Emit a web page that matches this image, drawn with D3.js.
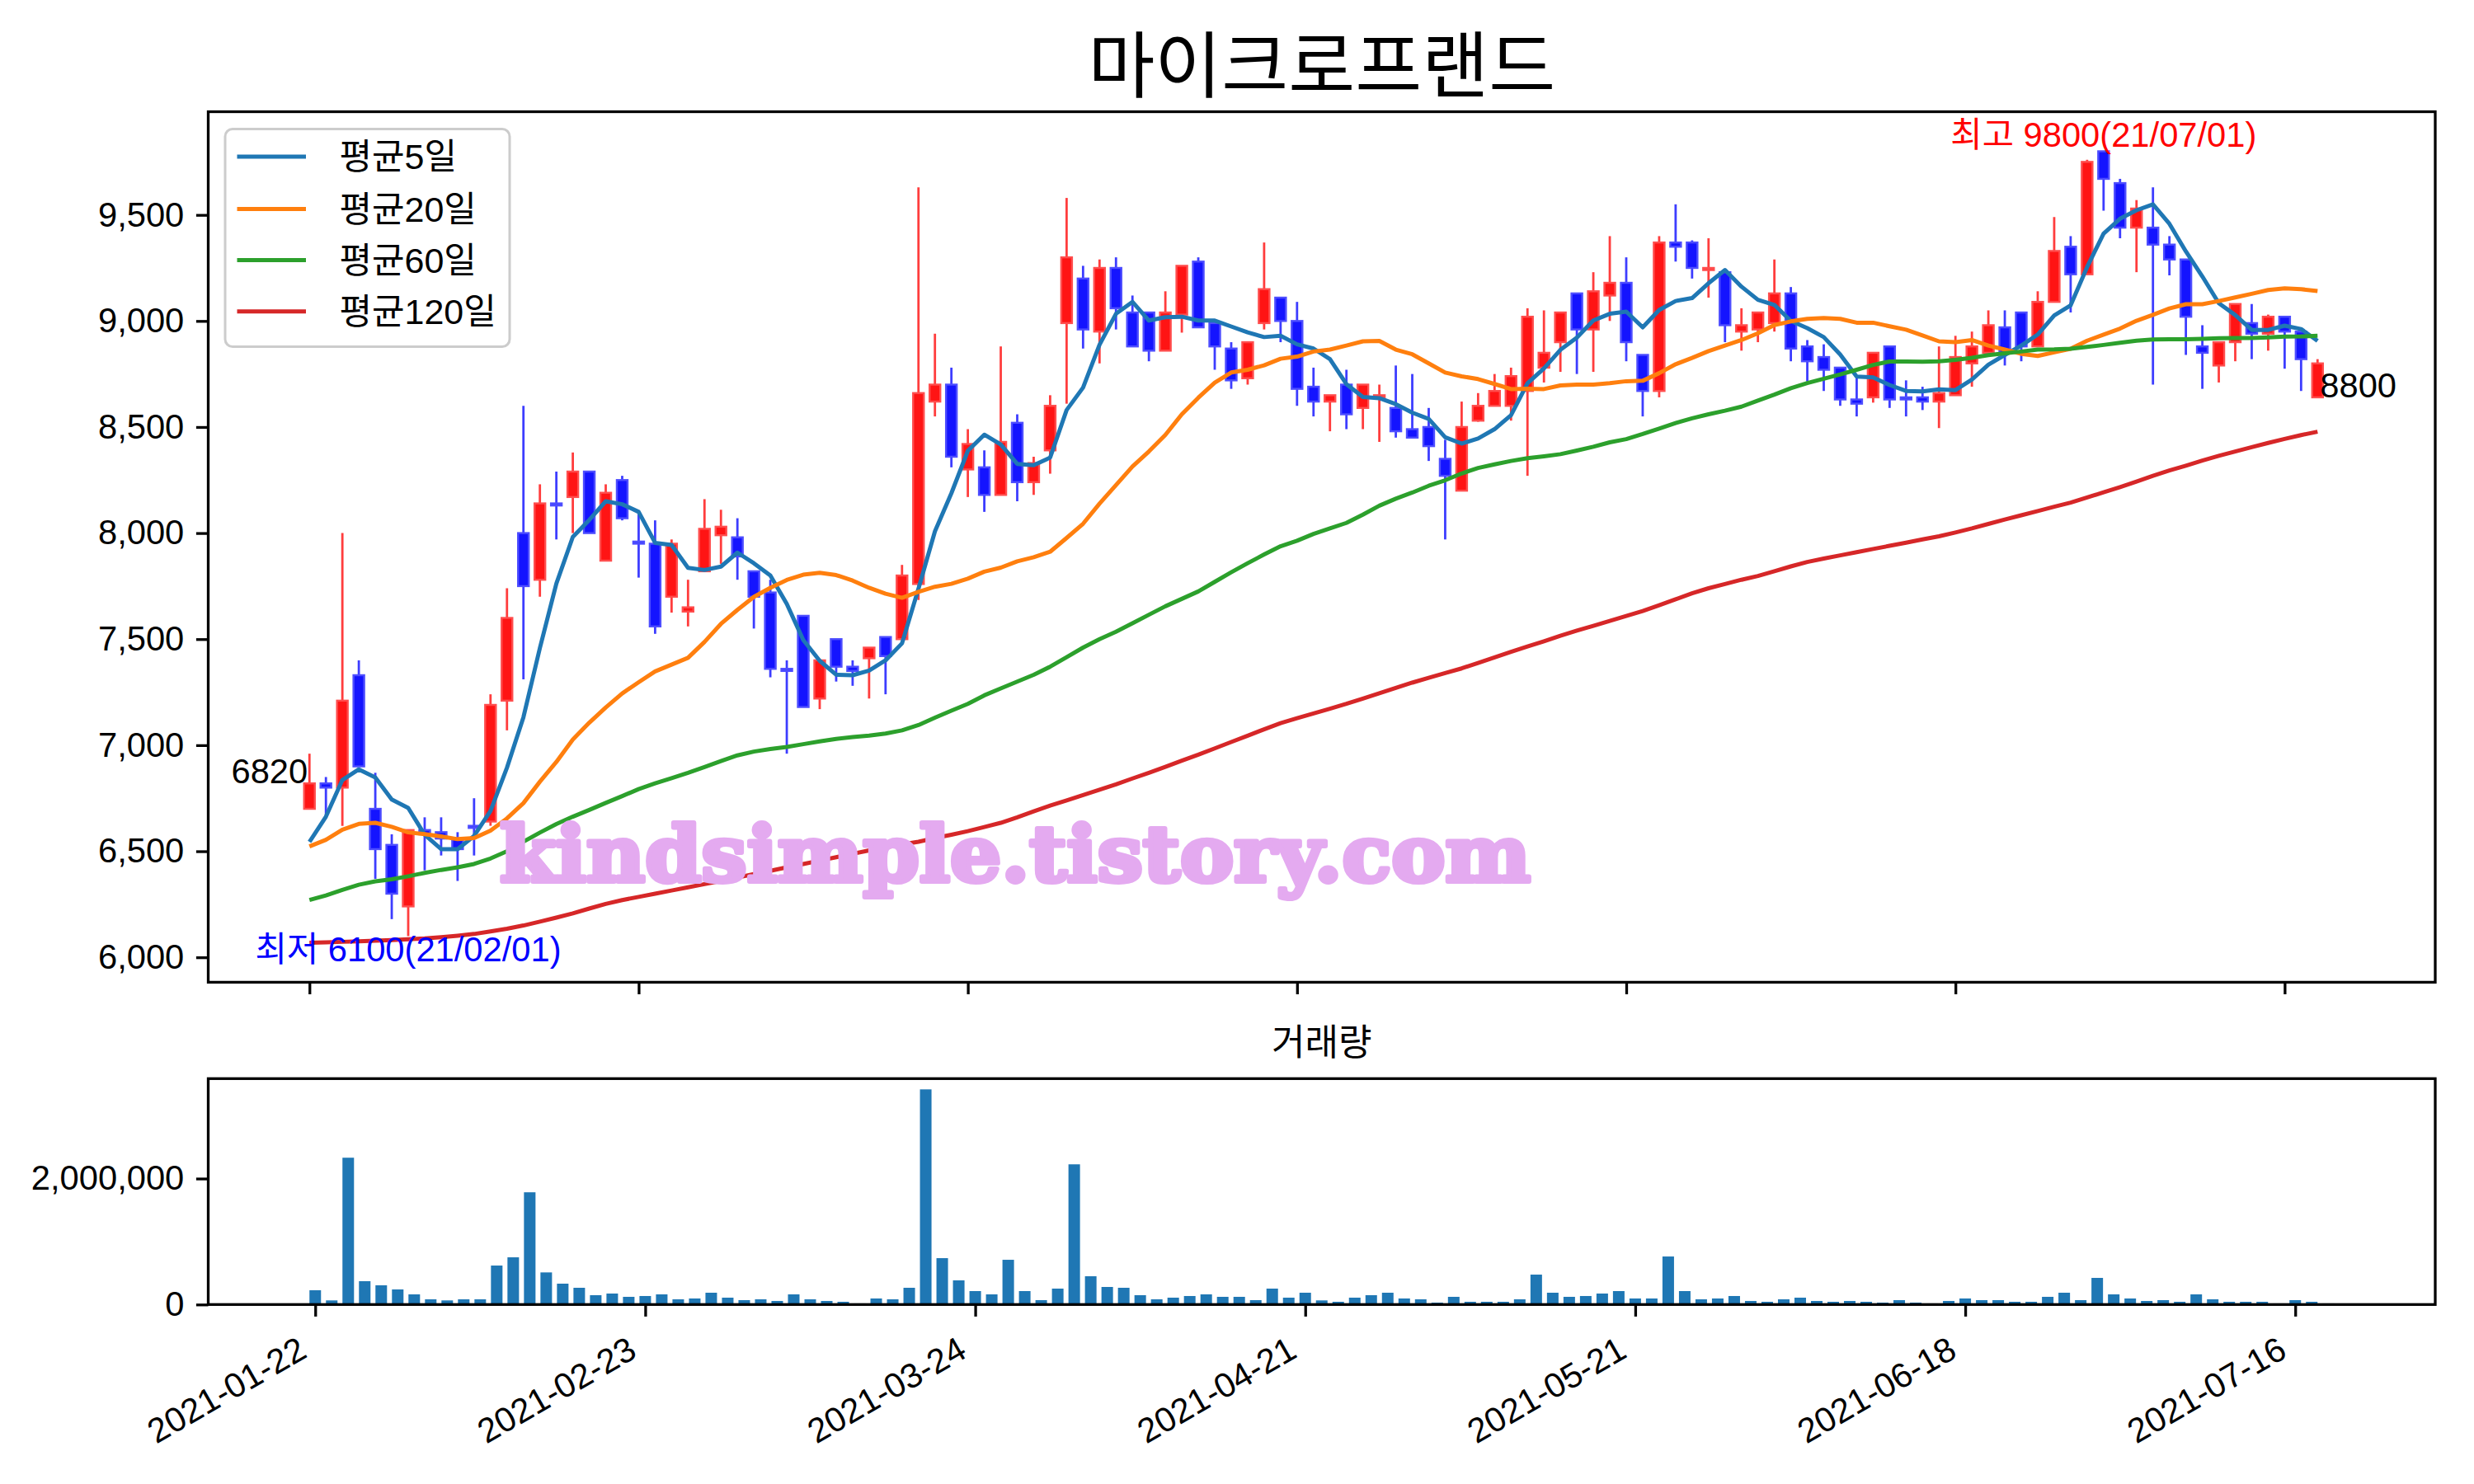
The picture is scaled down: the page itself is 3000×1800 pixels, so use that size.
<!DOCTYPE html>
<html><head><meta charset="utf-8">
<script src="https://cdn.jsdelivr.net/npm/d3@7"></script>
<style>body{margin:0;background:#fff}</style>
</head><body>
<svg id="c" width="3000" height="1800" xmlns="http://www.w3.org/2000/svg"></svg>
<script>
const chartTitle = "마이크로프랜드";
const volTitle = "거래량";
const tickIdx = [0, 20, 40, 60, 80, 100, 120];
const tickLabels = ["2021-01-22","2021-02-23","2021-03-24","2021-04-21","2021-05-21","2021-06-18","2021-07-16"];
const yTicks = [6000, 6500, 7000, 7500, 8000, 8500, 9000, 9500];
const volTicks = [0, 2000000];
const maNames = ["평균5일", "평균20일", "평균60일", "평균120일"];

const opens = [
6700,6820,6800,7330,6700,6530,6240,6600,6590,6560,
6620,6640,7210,8000,7780,8140,8170,8290,7870,8250,
7960,7950,7700,7630,7820,7990,7980,7820,7720,7360,
7610,7220,7500,7370,7410,7510,7500,7760,8620,8700,
8300,8310,8180,8520,8240,8390,8990,9200,8950,9250,
9040,9040,8860,9030,9280,8990,8870,8730,8990,9110,
9000,8690,8620,8700,8590,8640,8590,8490,8500,8350,
8200,8530,8600,8600,8670,8780,8900,9130,8960,9120,
9180,8840,8670,9370,9370,9240,9230,8950,8960,8990,
9130,8880,8830,8780,8630,8640,8880,8640,8640,8620,
8650,8800,8850,8970,9040,8880,9090,9350,9220,9800,
9650,9440,9440,9360,9290,8880,8790,8900,8990,8940,
9020,8950,8640];
const highs = [
6960,6850,8000,7400,6870,6580,6600,6660,6660,6590,
6750,7240,7740,8600,8230,8290,8380,8290,8230,8270,
8090,8060,7970,7780,8160,8110,8070,7820,7780,7400,
7610,7400,7500,7400,7460,7510,7850,9630,8940,8780,
8490,8390,8880,8560,8360,8650,9580,9260,9290,9300,
9120,9040,9140,9260,9300,8990,8900,8900,9370,9110,
9090,8780,8650,8770,8700,8700,8790,8750,8590,8440,
8620,8660,8750,8780,9060,9050,9040,9130,9230,9400,
9300,8840,9400,9550,9380,9390,9230,9060,9040,9290,
9160,8910,8890,8780,8740,8850,8880,8720,8690,8880,
8930,8950,9050,9050,9040,9140,9490,9400,9760,9800,
9670,9570,9630,9400,9290,8980,8900,9080,9080,9030,
9020,8950,8820];
const lows = [
6700,6660,6620,6900,6370,6180,6100,6410,6480,6360,
6480,6620,7070,7310,7700,7970,8000,8000,7870,8060,
7790,7525,7625,7560,7820,7855,7780,7550,7320,6960,
7180,7170,7300,7280,7220,7240,7500,7685,8550,8310,
8170,8100,8180,8150,8180,8280,8610,8870,8800,8960,
8880,8810,8860,8945,8970,8770,8680,8700,8960,8900,
8600,8550,8480,8490,8490,8430,8450,8450,8340,7970,
8200,8525,8600,8530,8270,8710,8760,8750,8760,9000,
8810,8550,8640,9280,9200,9110,8900,8860,8900,8950,
8810,8715,8670,8600,8550,8615,8590,8550,8580,8495,
8650,8690,8850,8790,8810,8880,9090,9040,9220,9520,
9390,9230,8700,9215,8840,8680,8710,8810,8820,8860,
8775,8670,8640];
const closes = [
6820,6800,7210,6900,6510,6300,6600,6580,6560,6510,
6610,7190,7600,7750,8140,8130,8290,8000,8190,8070,
7950,7560,7950,7650,8020,8030,7890,7700,7360,7350,
7180,7400,7370,7350,7460,7420,7800,8660,8700,8360,
8420,8180,8430,8240,8330,8600,9300,8960,9250,9060,
8880,8860,9040,9260,8970,8880,8720,8900,9150,9000,
8680,8620,8650,8560,8700,8650,8480,8450,8410,8270,
8500,8600,8670,8740,9020,8850,9040,8960,9140,9180,
8900,8670,9370,9350,9250,9250,8980,8980,9040,9130,
8870,8810,8770,8630,8610,8850,8630,8630,8620,8660,
8830,8880,8980,8850,8880,9090,9330,9220,9750,9670,
9440,9530,9360,9290,9020,8850,8900,9080,8940,9020,
8950,8820,8800];
const volumes = [
226600,65400,2331000,370300,305000,239600,161200,82800,65400,82800,
82800,618700,749400,1782000,509800,331100,265800,148100,174300,122000,
135100,161200,82800,95900,187400,108900,69700,82800,56600,161200,
82800,56600,43600,17400,95900,82800,265800,3416000,736300,383400,
213500,161200,710200,213500,69700,252700,2226000,448800,278800,265800,
148100,82800,108900,135100,161200,122000,122000,69700,252700,108900,
187400,65400,43600,108900,148100,187400,95900,82800,30500,122000,
43600,43600,43600,82800,474900,187400,122000,135100,174300,213500,
95900,95900,762500,213500,82800,95900,135100,56600,43600,82800,
108900,56600,43600,56600,43600,30500,69700,30500,17400,56600,
95900,69700,69700,43600,43600,122000,187400,69700,422600,161200,
95900,56600,69700,43600,161200,82800,43600,43600,43600,17400,
69700,43600,17400];
const ma5 = [
6544,6663,6836,6886,6848,6744,6704,6578,6510,6510,
6572,6690,6894,7132,7458,7762,7982,8062,8150,8136,
8100,7954,7944,7836,7826,7842,7908,7858,7800,7666,
7496,7398,7332,7330,7352,7400,7480,7738,8008,8188,
8388,8464,8418,8326,8320,8356,8580,8686,8888,9034,
9090,9002,9018,9020,9002,9002,8974,8946,8924,8930,
8890,8870,8820,8702,8642,8636,8608,8568,8538,8452,
8422,8446,8490,8556,8706,8776,8864,8922,9002,9034,
9044,8970,9052,9094,9108,9178,9240,9162,9100,9076,
9000,8966,8924,8842,8738,8734,8698,8670,8668,8678,
8674,8724,8794,8840,8884,8936,9026,9074,9254,9412,
9482,9522,9550,9458,9328,9210,9084,9028,8958,8958,
8978,8962,8906];
const ma20 = [
6523,6554,6602,6629,6634,6615,6589,6581,6570,6557,
6562,6597,6655,6727,6828,6921,7027,7106,7178,7244,
7297,7348,7380,7412,7487,7572,7638,7699,7742,7779,
7804,7813,7802,7776,7742,7714,7695,7723,7747,7761,
7785,7818,7837,7867,7886,7912,7977,8044,8139,8226,
8314,8385,8463,8560,8638,8709,8757,8770,8791,8822,
8832,8856,8865,8884,8904,8906,8865,8843,8800,8757,
8739,8726,8703,8679,8681,8679,8696,8700,8700,8707,
8716,8718,8754,8796,8826,8858,8884,8910,8942,8981,
8998,9010,9014,9010,8992,8992,8975,8959,8932,8904,
8900,8910,8884,8865,8845,8835,8852,8869,8907,8936,
8964,9001,9029,9059,9079,9079,9094,9111,9128,9146,
9154,9150,9141];
const ma60 = [
6270,6292,6318,6342,6358,6368,6382,6398,6412,6424,
6440,6466,6500,6545,6588,6628,6663,6695,6728,6760,
6793,6820,6845,6870,6897,6925,6952,6970,6982,6992,
7005,7018,7030,7038,7045,7055,7070,7095,7130,7163,
7195,7235,7268,7300,7332,7370,7415,7460,7500,7535,
7575,7615,7655,7690,7725,7770,7815,7858,7899,7938,
7964,7996,8022,8048,8087,8129,8162,8191,8223,8249,
8281,8307,8324,8340,8353,8362,8372,8389,8407,8428,
8443,8467,8493,8519,8541,8560,8577,8596,8625,8653,
8683,8707,8728,8748,8770,8793,8809,8809,8808,8810,
8817,8826,8839,8848,8856,8865,8866,8869,8878,8887,
8897,8907,8913,8914,8914,8916,8919,8920,8920,8923,
8926,8927,8930];
const ma120 = [
6069,6071,6073,6075,6078,6081,6085,6089,6095,6102,
6110,6122,6135,6150,6168,6187,6207,6230,6252,6270,
6285,6300,6315,6330,6345,6360,6376,6392,6408,6424,
6440,6456,6472,6488,6504,6518,6532,6545,6562,6578,
6595,6614,6634,6660,6688,6715,6740,6765,6790,6815,
6843,6870,6898,6927,6955,6985,7015,7045,7075,7104,
7127,7150,7172,7195,7220,7245,7270,7295,7318,7340,
7362,7388,7414,7440,7465,7490,7516,7540,7563,7586,
7609,7633,7660,7688,7716,7740,7760,7780,7798,7820,
7843,7864,7880,7895,7910,7925,7940,7955,7970,7985,
8003,8022,8043,8064,8084,8104,8124,8144,8168,8192,
8217,8243,8270,8295,8318,8342,8364,8385,8405,8425,
8444,8462,8478];
const maxInfo = {idx: 109, value: 9800, label: "최고 9800(21/07/01)"};
const minInfo = {idx: 6, value: 6100, label: "최저 6100(21/02/01)"};
const watermark = "kindsimple.tistory.com";

// ---------------- drawing ----------------
const svg = d3.select('#c');
svg.append('rect').attr('width', 3000).attr('height', 1800).attr('fill', '#fff');
const FONT = "'Liberation Sans', 'Noto Sans CJK KR', sans-serif";
const KFONT = "'Noto Sans CJK KR', 'Liberation Sans', sans-serif";
const FS = 41.7;
const M = {l: 252.5, r: 2953, t: 135.5, b: 1191.4};
const V = {l: 252.5, r: 2953, t: 1308.3, b: 1582.3};
const n = closes.length;
const mas = [ma5, ma20, ma60, ma120];
const maColors = ["#1f77b4", "#ff7f0e", "#2ca02c", "#d62728"];
const LW = 5;

const x = d3.scaleLinear().domain([-0.05 * n, n * 1.05]).range([M.l, M.r]);
const lo = d3.min([d3.min(lows), ...mas.map(a => d3.min(a))]);
const hi = d3.max([d3.max(highs), ...mas.map(a => d3.max(a))]);
const pr = hi - lo;
const y = d3.scaleLinear().domain([lo - 0.05 * pr, hi + 0.05 * pr]).range([M.b, M.t]);

// title
svg.append('text').attr('x', (M.l + M.r) / 2).attr('y', 111).attr('text-anchor', 'middle')
  .attr('font-family', KFONT).attr('font-size', 88).attr('fill', '#000').text(chartTitle);

const main = svg.append('g');
// candles
const cg = main.append('g');
for (let i = 0; i < n; i++) {
  const up = closes[i] >= opens[i];
  const wick = up ? '#ff3d3d' : '#3d3dff';
  const fill = up ? '#ff1414' : '#1414ff';
  const edge = up ? '#ff4d4d' : '#4d4dff';
  cg.append('line').attr('x1', x(i)).attr('x2', x(i)).attr('y1', y(highs[i])).attr('y2', y(lows[i]))
    .attr('stroke', wick).attr('stroke-width', 2.8);
  const top = y(Math.max(opens[i], closes[i]));
  const h = Math.max(1.5, Math.abs(y(opens[i]) - y(closes[i])));
  cg.append('rect').attr('x', x(i) - 6.5).attr('y', top).attr('width', 13).attr('height', h)
    .attr('fill', fill).attr('stroke', edge).attr('stroke-width', 2.4);
}
// moving averages
const line = d3.line().x((d, i) => x(i)).y(d => y(d));
mas.forEach((arr, k) => {
  main.append('path').attr('d', line(arr)).attr('fill', 'none')
    .attr('stroke', maColors[k]).attr('stroke-width', LW).attr('stroke-linejoin', 'round');
});

// annotations
main.append('text').attr('x', x(0) - 2).attr('y', y(closes[0])).attr('text-anchor', 'end')
  .attr('font-family', FONT).attr('font-size', FS).attr('fill', '#000').text(String(closes[0]));
main.append('text').attr('x', x(n - 1) + 3).attr('y', y(lows[n - 1])).attr('text-anchor', 'start')
  .attr('font-family', FONT).attr('font-size', FS).attr('fill', '#000').text(String(closes[n - 1]));
main.append('text').attr('x', x(maxInfo.idx)).attr('y', y(maxInfo.value) - 5).attr('text-anchor', 'middle')
  .attr('font-family', FONT).attr('font-size', FS).attr('fill', '#ff0000').text(maxInfo.label);
main.append('text').attr('x', x(minInfo.idx)).attr('y', y(minInfo.value) + 31).attr('text-anchor', 'middle')
  .attr('font-family', FONT).attr('font-size', FS).attr('fill', '#0000ff').text(minInfo.label);

// watermark
main.append('text').attr('x', 606).attr('y', 1069)
  .attr('font-family', "'DejaVu Serif', serif").attr('font-weight', 'bold').attr('font-size', 94)
  .attr('textLength', 1250).attr('lengthAdjust', 'spacingAndGlyphs')
  .attr('fill', '#e4aaf0').attr('stroke', '#e4aaf0').attr('stroke-width', 6)
  .attr('stroke-linejoin', 'round').text(watermark);

// legend
const lg = svg.append('g');
lg.append('rect').attr('x', 273).attr('y', 156.5).attr('width', 345).attr('height', 264).attr('rx', 9)
  .attr('fill', '#fff').attr('fill-opacity', 0.8).attr('stroke', '#cccccc').attr('stroke-width', 3);
const rows = [190, 253.5, 315.6, 377.7];
maNames.forEach((nm, k) => {
  lg.append('line').attr('x1', 287.5).attr('x2', 371).attr('y1', rows[k]).attr('y2', rows[k])
    .attr('stroke', maColors[k]).attr('stroke-width', LW);
  lg.append('text').attr('x', 411.4).attr('y', rows[k] + 15).attr('font-family', FONT)
    .attr('font-size', 43).attr('fill', '#000').text(nm);
});

// main axes
const ya = svg.append('g').attr('transform', `translate(${M.l},0)`)
  .call(d3.axisLeft(y).tickValues(yTicks).tickSize(14.6).tickPadding(14.6).tickFormat(d3.format(',')));
ya.select('.domain').remove();
ya.selectAll('line').attr('stroke-width', 3.3);
ya.selectAll('text').attr('font-family', FONT).attr('font-size', FS).attr('fill', '#000');
const xa = svg.append('g').attr('transform', `translate(0,${M.b})`)
  .call(d3.axisBottom(x).tickValues(tickIdx).tickSize(14.6).tickFormat(''));
xa.select('.domain').remove();
xa.selectAll('line').attr('stroke-width', 3.3);
svg.append('rect').attr('x', M.l).attr('y', M.t).attr('width', M.r - M.l).attr('height', M.b - M.t)
  .attr('fill', 'none').attr('stroke', '#000').attr('stroke-width', 3.3);

// volume
const bw = 0.7;
const ext = (n - 1) + bw;
const xv = d3.scaleLinear().domain([-bw / 2 - 0.05 * ext, n - 1 + bw / 2 + 0.05 * ext]).range([V.l, V.r]);
const yv = d3.scaleLinear().domain([0, d3.max(volumes) * 1.05]).range([V.b, V.t]);
svg.append('g').selectAll('rect').data(volumes).join('rect')
  .attr('x', (d, i) => xv(i - bw / 2)).attr('width', xv(bw) - xv(0))
  .attr('y', d => yv(d)).attr('height', d => V.b - yv(d)).attr('fill', '#1f77b4');
svg.append('text').attr('x', (V.l + V.r) / 2).attr('y', 1280).attr('text-anchor', 'middle')
  .attr('font-family', KFONT).attr('font-size', 44).attr('fill', '#000').text(volTitle);
const yva = svg.append('g').attr('transform', `translate(${V.l},0)`)
  .call(d3.axisLeft(yv).tickValues(volTicks).tickSize(14.6).tickPadding(14.6).tickFormat(d3.format(',')));
yva.select('.domain').remove();
yva.selectAll('line').attr('stroke-width', 3.3);
yva.selectAll('text').attr('font-family', FONT).attr('font-size', FS).attr('fill', '#000');
const xva = svg.append('g').attr('transform', `translate(0,${V.b})`)
  .call(d3.axisBottom(xv).tickValues(tickIdx).tickSize(14.6).tickFormat(''));
xva.select('.domain').remove();
xva.selectAll('line').attr('stroke-width', 3.3);
tickIdx.forEach((t, k) => {
  svg.append('text').attr('transform', `translate(${xv(t) - 8},1645) rotate(-30)`)
    .attr('text-anchor', 'end').attr('font-family', FONT).attr('font-size', FS).attr('fill', '#000')
    .text(tickLabels[k]);
});
svg.append('rect').attr('x', V.l).attr('y', V.t).attr('width', V.r - V.l).attr('height', V.b - V.t)
  .attr('fill', 'none').attr('stroke', '#000').attr('stroke-width', 3.3);
</script>
</body></html>
